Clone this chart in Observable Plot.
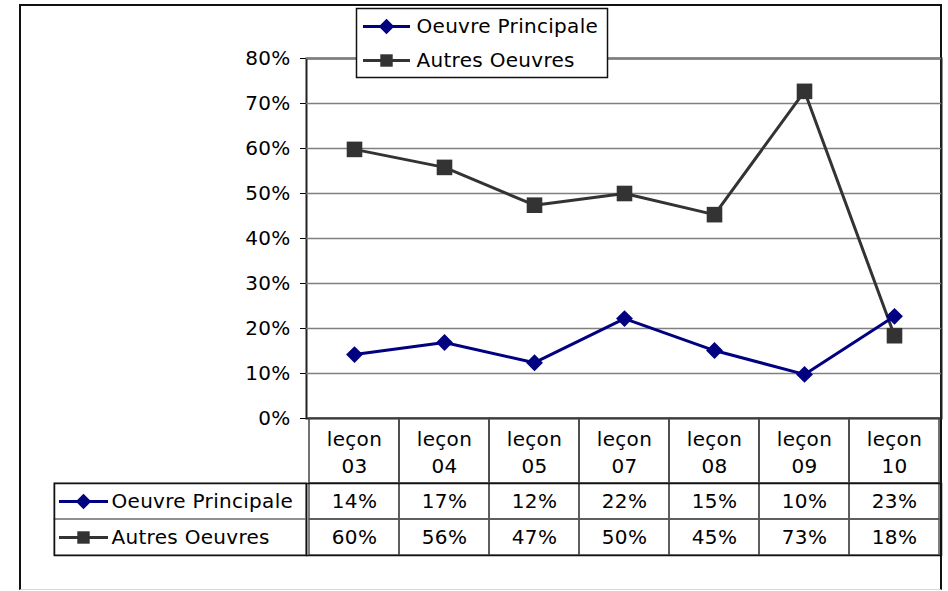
<!DOCTYPE html>
<html>
<head>
<meta charset="utf-8">
<script src="https://cdn.jsdelivr.net/npm/d3@7"></script>
<script src="https://cdn.jsdelivr.net/npm/@observablehq/plot@0.6"></script>
<style>
  html, body { margin: 0; padding: 0; background: #fff; }
  #wrap { position: relative; width: 948px; height: 591px; overflow: hidden; font-family: "DejaVu Sans", sans-serif; }
  #frame { position: absolute; left: 19px; top: 4px; width: 919px; height: 583px;
           border-left: 2px solid #111; border-top: 2px solid #111; border-right: 2px solid #111;
           border-bottom: 1px solid #d8d8d8; }
  .abs { position: absolute; }
  svg text { letter-spacing: 0.3px; }
</style>
</head>
<body>
<div id="wrap"><div id="frame"></div></div>
<script>
// ---- data ----
const categories = ["leçon 03", "leçon 04", "leçon 05", "leçon 07", "leçon 08", "leçon 09", "leçon 10"];
const seriesNames = ["Oeuvre Principale", "Autres Oeuvres"];
const principale = [0.142, 0.169, 0.124, 0.222, 0.151, 0.098, 0.227];
const autres = [0.598, 0.558, 0.474, 0.500, 0.453, 0.727, 0.184];
const yTicks = [0, 0.1, 0.2, 0.3, 0.4, 0.5, 0.6, 0.7, 0.8];
const seriesColors = ["#000080", "#333333"];
const seriesSymbols = ["diamond2", "square"];

const dataP = categories.map((c, i) => ({cat: c, series: seriesNames[0], value: principale[i]}));
const dataA = categories.map((c, i) => ({cat: c, series: seriesNames[1], value: autres[i]}));
const tableData = [...dataP, ...dataA];
const pct = d3.format(".0%");

const style = {fontFamily: "DejaVu Sans", fontSize: "20px", color: "black", background: "transparent", overflow: "visible"};
const wrap = document.getElementById("wrap");
function place(el, left, top) { el.classList.add("abs"); el.style.left = left + "px"; el.style.top = top + "px"; wrap.appendChild(el); }

// ---- chart ----
const chart = Plot.plot({
  width: 948, height: 420,
  marginLeft: 306, marginRight: 7, marginTop: 58, marginBottom: 2,
  style,
  x: {type: "band", domain: categories, padding: 0, axis: null},
  y: {domain: [0, 0.8], ticks: yTicks, tickFormat: pct, tickSize: 6, tickPadding: 10, label: null},
  marks: [
    Plot.frame({stroke: "#222", strokeWidth: 2}),
    Plot.ruleY(yTicks.filter(d => d > 0), {stroke: "#808080", strokeWidth: 1.5}),
    Plot.line(dataA, {x: "cat", y: "value", stroke: seriesColors[1], strokeWidth: 3}),
    Plot.dot(dataA, {x: "cat", y: "value", symbol: "square", r: 8.8, fill: seriesColors[1], stroke: "none"}),
    Plot.line(dataP, {x: "cat", y: "value", stroke: seriesColors[0], strokeWidth: 3}),
    Plot.dot(dataP, {x: "cat", y: "value", symbol: "diamond2", r: 7.6, fill: seriesColors[0], stroke: "none"})
  ]
});
place(chart, 0, 0);

// ---- table header (category labels) ----
const header = Plot.plot({
  width: 948, height: 65,
  marginLeft: 306, marginRight: 7, marginTop: 0, marginBottom: 0,
  style,
  x: {type: "band", domain: categories, padding: 0, axis: null},
  marks: [
    Plot.cell(categories, {x: d => d, fill: "none", stroke: "#444", strokeWidth: 1.5}),
    Plot.text(categories, {x: d => d, text: d => d.replace(" ", "\n"), lineHeight: 1.35, fontSize: 20, fill: "black"})
  ]
});
place(header, 0, 418);

// ---- table values ----
const values = Plot.plot({
  width: 948, height: 72,
  marginLeft: 306, marginRight: 7, marginTop: 0, marginBottom: 0,
  style,
  x: {type: "band", domain: categories, padding: 0, axis: null},
  y: {type: "band", domain: seriesNames, padding: 0, axis: null},
  marks: [
    Plot.cell(tableData, {x: "cat", y: "series", fill: "none", stroke: "#555", strokeWidth: 1.5}),
    Plot.frame({stroke: "#111", strokeWidth: 1.5}),
    Plot.text(tableData, {x: "cat", y: "series", text: d => pct(d.value), fontSize: 20, fill: "black"})
  ]
});
place(values, 0, 483);

// ---- table row labels with keys ----
const keyScales = {
  color: {domain: seriesNames, range: seriesColors},
  symbol: {domain: seriesNames, range: seriesSymbols}
};
const labels = Plot.plot({
  width: 252, height: 72,
  marginLeft: 0, marginRight: 0, marginTop: 0, marginBottom: 0,
  style,
  y: {type: "band", domain: seriesNames, padding: 0, axis: null},
  ...keyScales,
  marks: [
    Plot.cell(seriesNames, {y: d => d, fill: "none", stroke: "#888", strokeWidth: 1.5}),
    Plot.frame({stroke: "#111", strokeWidth: 1.5}),
    Plot.ruleY(seriesNames, {y: d => d, stroke: d => d, strokeWidth: 3, insetLeft: 5, insetRight: 198}),
    Plot.dot(seriesNames, {y: d => d, frameAnchor: "left", dx: 29, symbol: d => d, fill: d => d, r: 7, stroke: "none"}),
    Plot.text(seriesNames, {y: d => d, text: d => d, frameAnchor: "left", textAnchor: "start", dx: 57, fontSize: 20, fill: "black"})
  ]
});
place(labels, 54, 483);

// ---- legend ----
const legend = Plot.plot({
  width: 251, height: 69,
  marginLeft: 0, marginRight: 0, marginTop: 0, marginBottom: 0,
  style: {...style, background: "white"},
  y: {type: "band", domain: seriesNames, padding: 0, axis: null},
  ...keyScales,
  marks: [
    Plot.frame({stroke: "#111", strokeWidth: 1.5}),
    Plot.ruleY(seriesNames, {y: d => d, stroke: d => d, strokeWidth: 3, insetLeft: 7, insetRight: 197}),
    Plot.dot(seriesNames, {y: d => d, frameAnchor: "left", dx: 30, symbol: d => d, fill: d => d, r: 7, stroke: "none"}),
    Plot.text(seriesNames, {y: d => d, text: d => d, frameAnchor: "left", textAnchor: "start", dx: 60, fontSize: 20, fill: "black"})
  ]
});
place(legend, 356, 8);
</script>
</body>
</html>
